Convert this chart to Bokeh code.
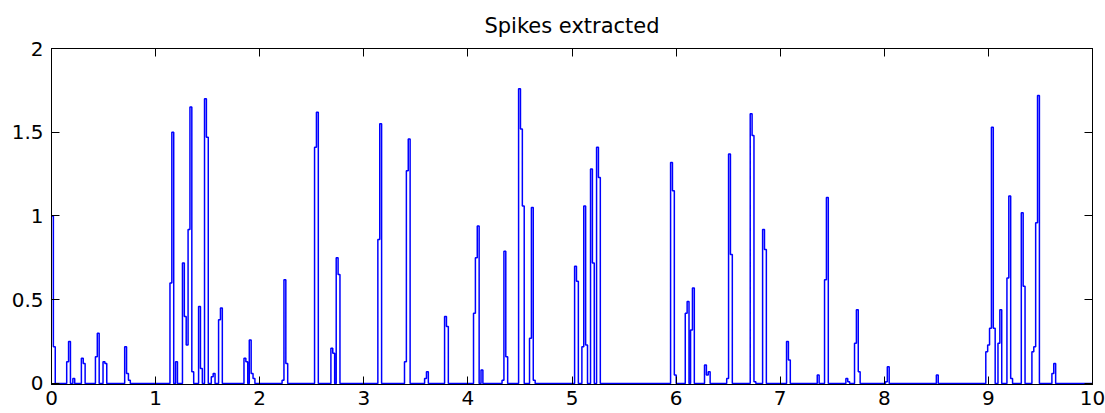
from bokeh.plotting import figure
from bokeh.models import Range1d, LinearAxis, FixedTicker, PrintfTickFormatter, CustomJSTickFormatter
from bokeh.embed import file_html
from bokeh.resources import INLINE

# ---- data ----
burst_start = [0.000, 0.146, 0.205, 0.287, 0.422, 0.495, 0.703, 1.138, 1.258, 1.413,
               1.470, 1.535, 1.605, 1.849, 1.900, 2.215, 2.527, 2.684, 2.735, 3.135,
               3.391, 3.584, 3.776, 4.054, 4.328, 4.487, 4.592, 5.025, 5.095, 5.178,
               5.236, 5.947, 6.088, 6.139, 6.273, 6.486, 6.712, 6.831, 7.061, 7.356,
               7.426, 7.631, 7.714, 8.011, 8.500, 8.975, 9.092, 9.178, 9.316, 9.418,
               9.610]
burst_levels = [
    [1.00, 0.22], [0.13, 0.25], [0.03], [0.15, 0.12], [0.16, 0.30], [0.13, 0.12],
    [0.22, 0.06, 0.02], [0.60, 1.50, 0.00, 0.13], [0.72, 0.40, 0.23, 0.92, 1.65, 0.07],
    [0.46, 0.09], [1.70, 1.47], [0.04, 0.06], [0.38, 0.45], [0.15, 0.13],
    [0.26, 0.06, 0.03], [0.02, 0.62, 0.12], [1.41, 1.62], [0.21, 0.18], [0.75, 0.65],
    [0.86, 1.55], [0.13, 1.27, 1.46], [0.03, 0.07], [0.40, 0.34],
    [0.42, 0.75, 0.94, 0.00, 0.08], [0.02, 0.79, 0.16], [1.76, 1.52, 1.06],
    [0.27, 1.05, 0.02], [0.70, 0.61], [0.22, 1.06, 0.23], [1.28, 0.72], [1.41, 1.23],
    [1.32, 1.15, 0.05], [0.42, 0.49], [0.32, 0.57], [0.11, 0.05, 0.07],
    [0.03, 1.37, 0.77], [1.61, 1.48, 0.01], [0.92, 0.80], [0.25, 0.14], [0.05],
    [0.62, 1.11], [0.03, 0.01], [0.24, 0.44, 0.07], [0.01, 0.10], [0.05],
    [0.19, 0.23, 0.33, 1.53, 0.33], [0.24, 0.44], [0.63, 1.12, 0.03], [1.02, 0.58],
    [0.19, 0.22, 0.96, 1.72], [0.06, 0.12],
]
sample_dt = 0.018
t_end = 10.0

x_ticks = [0, 1, 2, 3, 4, 5, 6, 7, 8, 9, 10]
y_ticks = [0, 0.5, 1, 1.5, 2]
title_text = "Spikes extracted"

# ---- staircase signal assembled from the bursts ----
ts, ys = [], []
for start, levels in zip(burst_start, burst_levels):
    for i, v in enumerate(levels):
        ts.append(start + i * sample_dt)
        ys.append(v)
    ts.append(start + len(levels) * sample_dt)
    ys.append(0.0)
ts.append(t_end)
ys.append(0.0)

FONT = "DejaVu Sans"

p = figure(width=1105, height=413, output_backend="svg", toolbar_location=None,
           x_range=Range1d(0, 10), y_range=Range1d(-0.006, 2),
           min_border_left=51, min_border_right=13, min_border_top=48, min_border_bottom=29)
p.background_fill_color = "white"
p.border_fill_color = "white"
p.outline_line_color = "black"
p.outline_line_width = 1
p.grid.visible = False

p.step(ts, ys, mode="after", line_color="#0000FF", line_width=1.5)

def style_axis(ax, ticks):
    ax.ticker = FixedTicker(ticks=ticks)
    ax.axis_line_color = "black"
    ax.major_tick_line_color = "black"
    ax.major_tick_in = 8
    ax.major_tick_out = 0
    ax.minor_tick_line_color = None

# bottom axis
style_axis(p.xaxis[0], x_ticks)
p.xaxis[0].formatter = PrintfTickFormatter(format="%d")
p.xaxis[0].major_label_text_font = FONT
p.xaxis[0].major_label_text_font_size = "20px"
p.xaxis[0].major_label_text_color = "black"
p.xaxis[0].major_label_standoff = 6

# left axis
style_axis(p.yaxis[0], y_ticks)
p.yaxis[0].formatter = PrintfTickFormatter(format="%g")
p.yaxis[0].major_label_text_font = FONT
p.yaxis[0].major_label_text_font_size = "20px"
p.yaxis[0].major_label_text_color = "black"
p.yaxis[0].major_label_standoff = 8

# mirrored top / right axes (ticks only)
top = LinearAxis()
style_axis(top, x_ticks)
top.formatter = CustomJSTickFormatter(code="return ''")
top.major_label_standoff = 0
p.add_layout(top, "above")
right = LinearAxis()
style_axis(right, y_ticks)
right.formatter = CustomJSTickFormatter(code="return ''")
right.major_label_standoff = 0
p.add_layout(right, "right")

p.title.text = title_text
p.title.align = "center"
p.title.text_font = FONT
p.title.text_font_size = "21px"
p.title.text_font_style = "normal"
p.title.text_color = "black"
p.title.standoff = 21

open("out.html", "w").write(file_html(p, INLINE))
